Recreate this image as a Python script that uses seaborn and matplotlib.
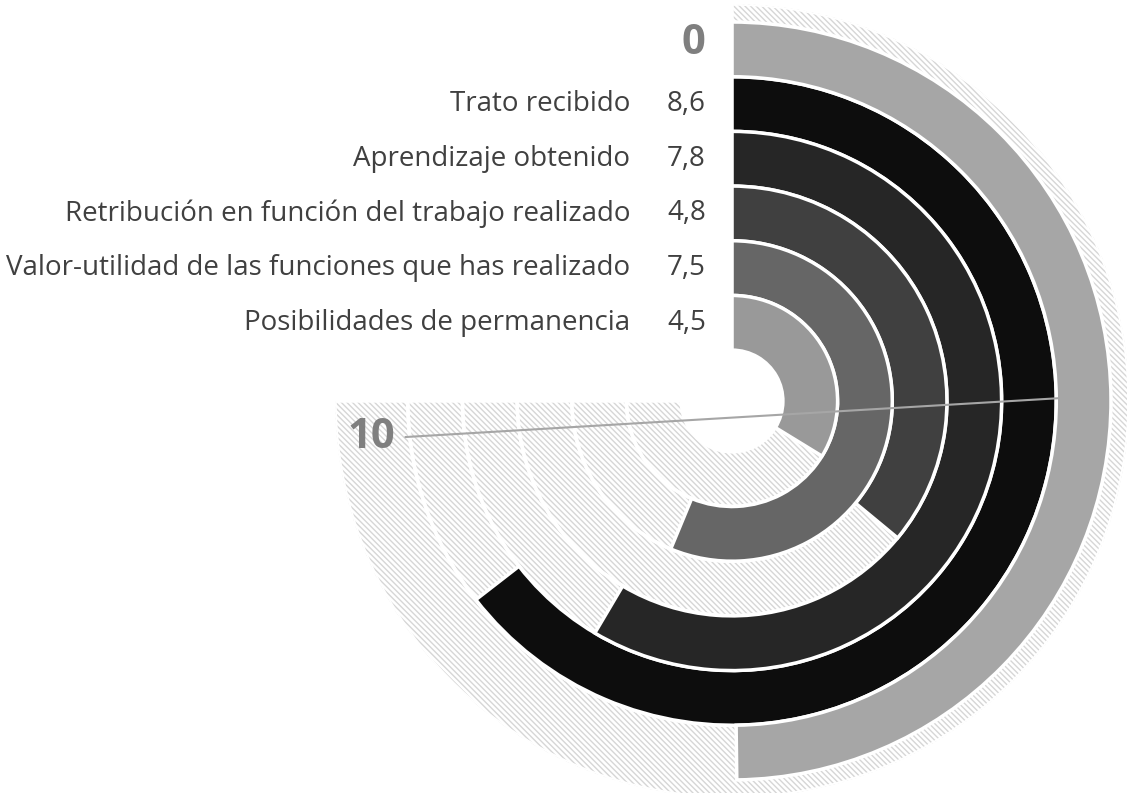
import numpy as np
import matplotlib.pyplot as plt
import seaborn as sns

# datos
categorias = ["Trato recibido", "Aprendizaje obtenido",
              "Retribución en función del trabajo realizado",
              "Valor-utilidad de las funciones que has realizado",
              "Posibilidades de permanencia"]
valores = [8.6, 7.8, 4.8, 7.5, 4.5]
etiquetas_valor = ["8,6", "7,8", "4,8", "7,5", "4,5"]
media = 6.64
colores = ["#0d0d0d", "#262626", "#404040", "#666666", "#999999"]
color_media = "#a6a6a6"

sns.set_theme(style="white")
plt.rcParams['font.family'] = ['Open Sans', 'DejaVu Sans']
plt.rcParams['hatch.linewidth'] = 1.0

fig = plt.figure(figsize=(11.27, 7.93), dpi=100)
ax = fig.add_axes([0.2973, -0.0063, 0.7045, 1.0013], projection='polar')
ax.set_theta_zero_location('N')
ax.set_theta_direction(-1)
r_max = 7.26
ax.set_ylim(0, r_max)
ax.set_axis_off()

grado = np.deg2rad(27)  # 10 puntos = 270 grados
hueco = 0.93
n = len(valores)

# fondo rayado (escala 0-10)
for i in range(n + 1):
    base = hueco + i
    alto = 1 if i < n else r_max - base
    ax.bar(0, alto, width=10 * grado, bottom=base, align='edge',
           facecolor='white', edgecolor='#d6d6d6', linewidth=0,
           hatch='\\' * 6, zorder=1)
    ax.bar(0, alto, width=10 * grado, bottom=base, align='edge',
           fill=False, edgecolor='white', linewidth=2.5, zorder=2)

# anillos de datos (de fuera hacia dentro)
for k, (v, c) in enumerate(zip(valores, colores)):
    anillo = n - 1 - k
    ax.bar(0, 1, width=v * grado, bottom=hueco + anillo, align='edge',
           color=c, edgecolor='white', linewidth=2.5, zorder=3)
    rc = hueco + anillo + 0.5
    ax.annotate(categorias[k], xy=(0, rc), xytext=(-102, 0),
                textcoords='offset pixels', ha='right', va='center',
                fontsize=20, color='#404040', annotation_clip=False)
    ax.annotate(etiquetas_valor[k], xy=(0, rc), xytext=(-26, 0),
                textcoords='offset pixels', ha='right', va='center',
                fontsize=20, color='#404040', annotation_clip=False)

# anillo exterior: media
ax.bar(0, 1, width=media * grado, bottom=hueco + n, align='edge',
       color=color_media, edgecolor='white', linewidth=2.5, zorder=3)
ax.annotate("0", xy=(0, hueco + n + 0.5), xytext=(-27, 6),
            textcoords='offset pixels', ha='right', va='center',
            fontsize=30, fontweight='bold', color='#7f7f7f', annotation_clip=False)

# linea del 10
ang10 = [np.deg2rad(263.7), np.deg2rad(89.5)]
ax.plot(ang10, [6.01, 6.0], color='#a6a6a6', lw=1.5, zorder=4)
ax.annotate("10", xy=(ang10[0], 6.01), xytext=(-10, 0),
            textcoords='offset pixels', ha='right', va='center',
            fontsize=30, fontweight='bold', color='#7f7f7f', annotation_clip=False)

fig.savefig("out.png", dpi=100)
